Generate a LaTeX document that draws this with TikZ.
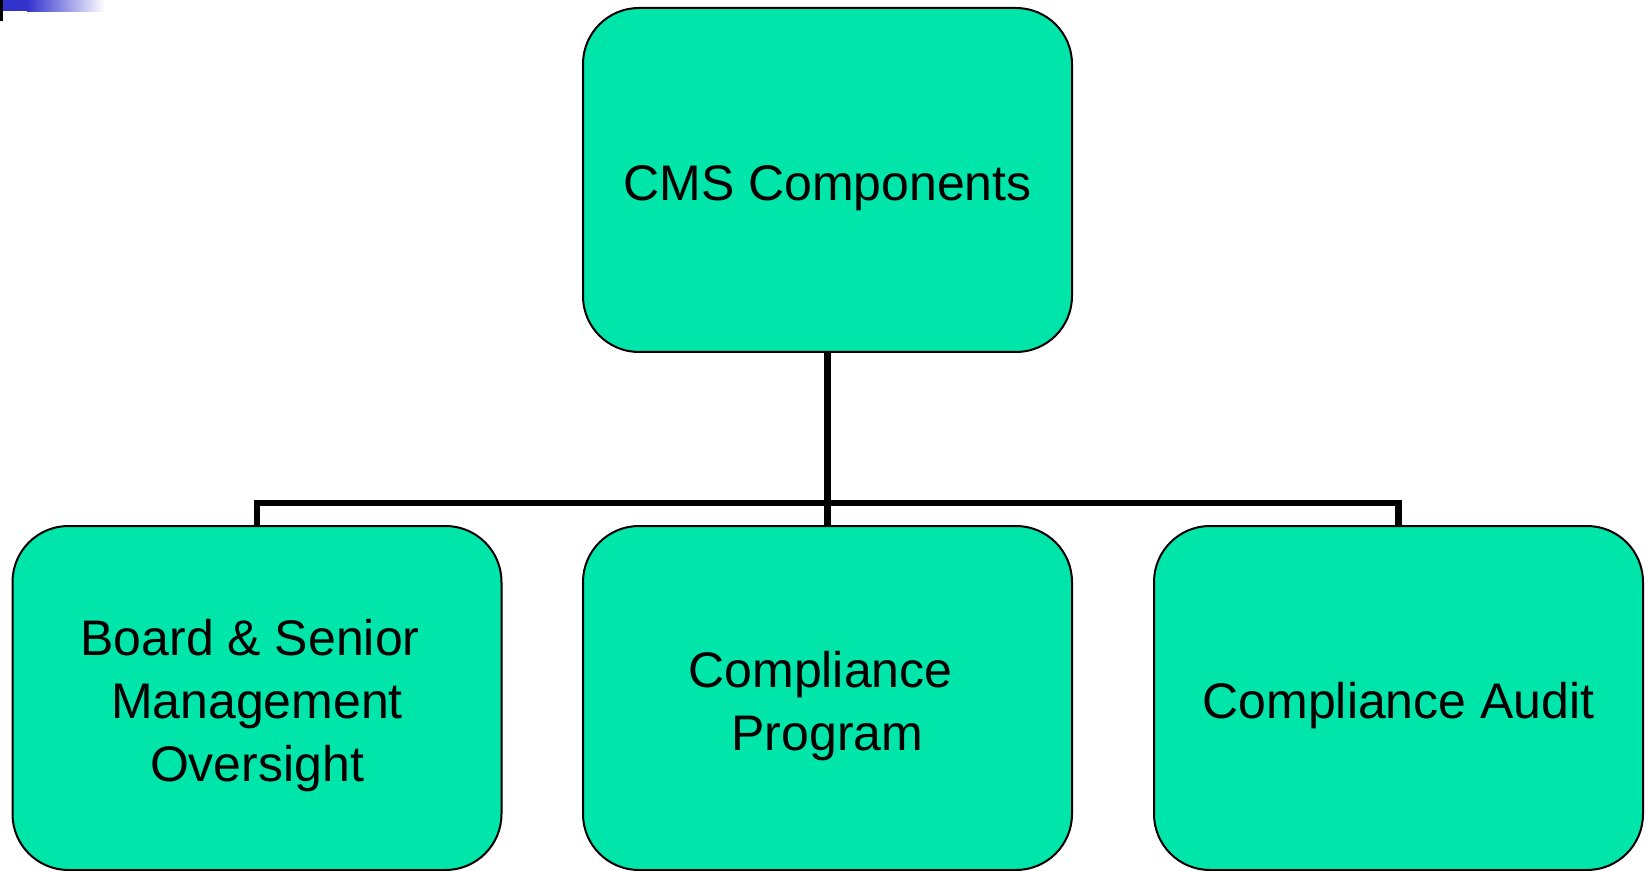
\documentclass[tikz,border=0pt]{standalone}
\usepackage{fontspec}
\setmainfont{Liberation Sans}
\definecolor{boxgreen}{RGB}{0,229,170}
\definecolor{hdrblue}{RGB}{50,50,205}
\begin{document}
\begin{tikzpicture}[x=0.5pt,y=-0.5pt,
  cmsbox/.style={draw=black, line width=1pt, fill=boxgreen, rounded corners=28pt,
    minimum width=244.5pt, minimum height=172pt, inner sep=0pt},
  cmstext/.style={align=center, inner sep=0pt, yshift=-4pt,
    font=\fontsize{25pt}{31.5pt}\selectfont},
  busline/.style={draw=black, line width=3.3pt}]
\useasboundingbox (0,0) rectangle (1648,871);
% top-left decoration
\fill[black] (0,0) rectangle (3,21);
\fill[hdrblue] (3,0) rectangle (27,11);
\shade[left color=hdrblue, right color=white] (27,0) rectangle (105,12);
% boxes
\node[cmsbox] (top) at (827.5,180) {};
\node[cmsbox] (left) at (257,698) {};
\node[cmsbox] (mid) at (827.5,698) {};
\node[cmsbox] (right) at (1398.5,698) {};
% texts
\node[cmstext] (toptext) at (top.center) {CMS Components};
\node[cmstext] (lefttext) at (left.center) {Board \& Senior\hspace*{7pt}\\Management\hspace*{7pt}\\Oversight};
\node[cmstext] (midtext) at (mid.center) {Compliance\hspace*{7pt}\\Program};
\node[cmstext] (righttext) at (right.center) {Compliance Audit};
\coordinate (bus) at (827.5,503);
% connectors
\draw[busline] (top.south) -- (mid.north);
\draw[busline] (left.north) |- (bus) -| (right.north);
\end{tikzpicture}
\end{document}
